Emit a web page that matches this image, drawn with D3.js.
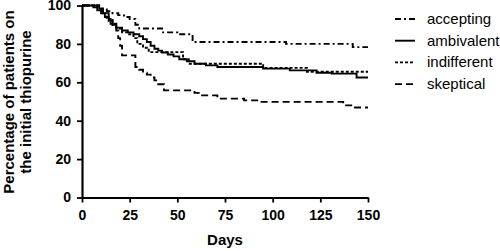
<!DOCTYPE html>
<html>
<head>
<meta charset="utf-8">
<script src="https://cdn.jsdelivr.net/npm/d3@7"></script>
<style>
  html, body { margin: 0; padding: 0; background: #fff; overflow: hidden; }
  svg { display: block; }
  text { font-family: Arial, "Liberation Sans", sans-serif; fill: #000; }
</style>
</head>
<body>
<div class="container"></div>
<script>
// Kaplan-Meier style step data (days, percent still on thiopurine)
const acceptingDays = [0, 9, 11, 13, 16, 19, 22, 25, 28, 30, 42, 50, 58, 107, 142, 150];
const acceptingPct = [100, 99, 98, 97, 96, 95, 94, 93, 90, 88, 86, 85, 81, 80, 78.3, 78.3];

const ambivalentDays = [0, 6, 8, 10, 12, 14, 16, 18, 21, 24, 27, 30, 32, 34, 36, 38, 40, 42, 45, 48, 51, 55, 59, 65, 71, 95, 109, 123, 131, 144, 150];
const ambivalentPct = [100, 99, 97.5, 96, 94, 92, 90, 88.5, 87, 86, 85, 84, 82.5, 81, 79, 77.5, 76.5, 75.5, 74.5, 73.5, 72, 71, 69.7, 68.8, 68, 67.1, 66.2, 65, 64.5, 62.5, 62.5];

const indifferentDays = [0, 9, 11, 13, 15, 18, 21, 24, 27, 29, 32, 35, 53, 56, 95, 118, 150];
const indifferentPct = [100, 98.5, 96, 93, 90.5, 88, 86, 85, 83, 80, 78, 75.7, 72, 69.7, 67.5, 65.5, 65.5];

const skepticalDays = [0, 8, 11, 14, 16, 18, 19, 20, 21, 28, 30, 32, 34, 36, 38, 40, 43, 59, 62, 71, 85, 93, 137, 142, 150];
const skepticalPct = [100, 98, 96, 93, 90, 87, 83, 79, 74, 68, 66.5, 65, 64, 62.5, 61, 59, 55.8, 54.5, 53.2, 51.5, 50.6, 49.8, 48, 46.9, 46.9];

const seriesNames = ['accepting', 'ambivalent', 'indifferent', 'skeptical'];
const xTicks = [0, 25, 50, 75, 100, 125, 150];
const yTicks = [0, 20, 40, 60, 80, 100];

const series = [
    { name: seriesNames[0], days: acceptingDays, pct: acceptingPct, dash: '6,3,2,3' },
    { name: seriesNames[1], days: ambivalentDays, pct: ambivalentPct, dash: null },
    { name: seriesNames[2], days: indifferentDays, pct: indifferentPct, dash: '3,2' },
    { name: seriesNames[3], days: skepticalDays, pct: skepticalPct, dash: '7,4' }
];

const width = 500;
const height = 251;
const margin = { top: 5.5, right: 132, bottom: 53.5, left: 82 };
const innerWidth = width - margin.left - margin.right;
const innerHeight = height - margin.top - margin.bottom;

const svg = d3.select('.container')
    .append('svg')
    .attr('width', width)
    .attr('height', height);

const mainGroup = svg.append('g')
    .attr('transform', `translate(${margin.left}, ${margin.top})`);

const xScale = d3.scaleLinear().domain([0, 150]).range([0, innerWidth]);
const yScale = d3.scaleLinear().domain([0, 100]).range([innerHeight, 0]);

const xAxis = d3.axisBottom(xScale).tickValues(xTicks).tickSize(5).tickSizeOuter(0).tickPadding(5);
const yAxis = d3.axisLeft(yScale).tickValues(yTicks).tickSize(5).tickSizeOuter(0).tickPadding(6);

const gX = mainGroup.append('g')
    .attr('transform', `translate(0, ${innerHeight})`)
    .call(xAxis);
const gY = mainGroup.append('g').call(yAxis);

[gX, gY].forEach(g => {
    g.attr('font-family', 'Arial, "Liberation Sans", sans-serif')
        .attr('font-size', 14)
        .attr('font-weight', 'bold');
    g.select('.domain').attr('stroke', '#000').attr('stroke-width', 2.2);
    g.selectAll('.tick line').attr('stroke', '#000').attr('stroke-width', 1.8);
    g.selectAll('.tick text').attr('fill', '#000');
});
gX.selectAll('.tick text').attr('dy', '0.92em');

const line = d3.line()
    .x(d => xScale(d[0]))
    .y(d => yScale(d[1]))
    .curve(d3.curveStepAfter);

series.forEach(s => {
    const pts = s.days.map((d, i) => [d, s.pct[i]]);
    mainGroup.append('path')
        .attr('d', line(pts))
        .attr('fill', 'none')
        .attr('stroke', '#000')
        .attr('stroke-width', 1.9)
        .attr('stroke-dasharray', s.dash);
});

// axis titles
svg.append('text')
    .attr('x', margin.left + innerWidth / 2)
    .attr('y', 245)
    .attr('text-anchor', 'middle')
    .style('font-size', '15px')
    .style('font-weight', 'bold')
    .text('Days');

const yTitle = svg.append('text')
    .attr('transform', 'translate(0, 102) rotate(-90)')
    .attr('text-anchor', 'middle')
    .style('font-size', '15px')
    .style('font-weight', 'bold');
yTitle.append('tspan').attr('x', 0).attr('y', 14).text('Percentage of patients on');
yTitle.append('tspan').attr('x', 0).attr('y', 31).text('the initial thiopurine');

// legend
const legend = svg.append('g').attr('transform', 'translate(395, 19)');
series.forEach((s, i) => {
    const row = legend.append('g').attr('transform', `translate(0, ${i * 21.7})`);
    row.append('line')
        .attr('x1', 0).attr('x2', 20)
        .attr('y1', 0).attr('y2', 0)
        .attr('stroke', '#000')
        .attr('stroke-width', 1.9)
        .attr('stroke-dasharray', s.dash);
    row.append('text')
        .attr('x', 32)
        .attr('y', 5)
        .style('font-size', '15px')
        .text(s.name);
});
</script>
</body>
</html>
